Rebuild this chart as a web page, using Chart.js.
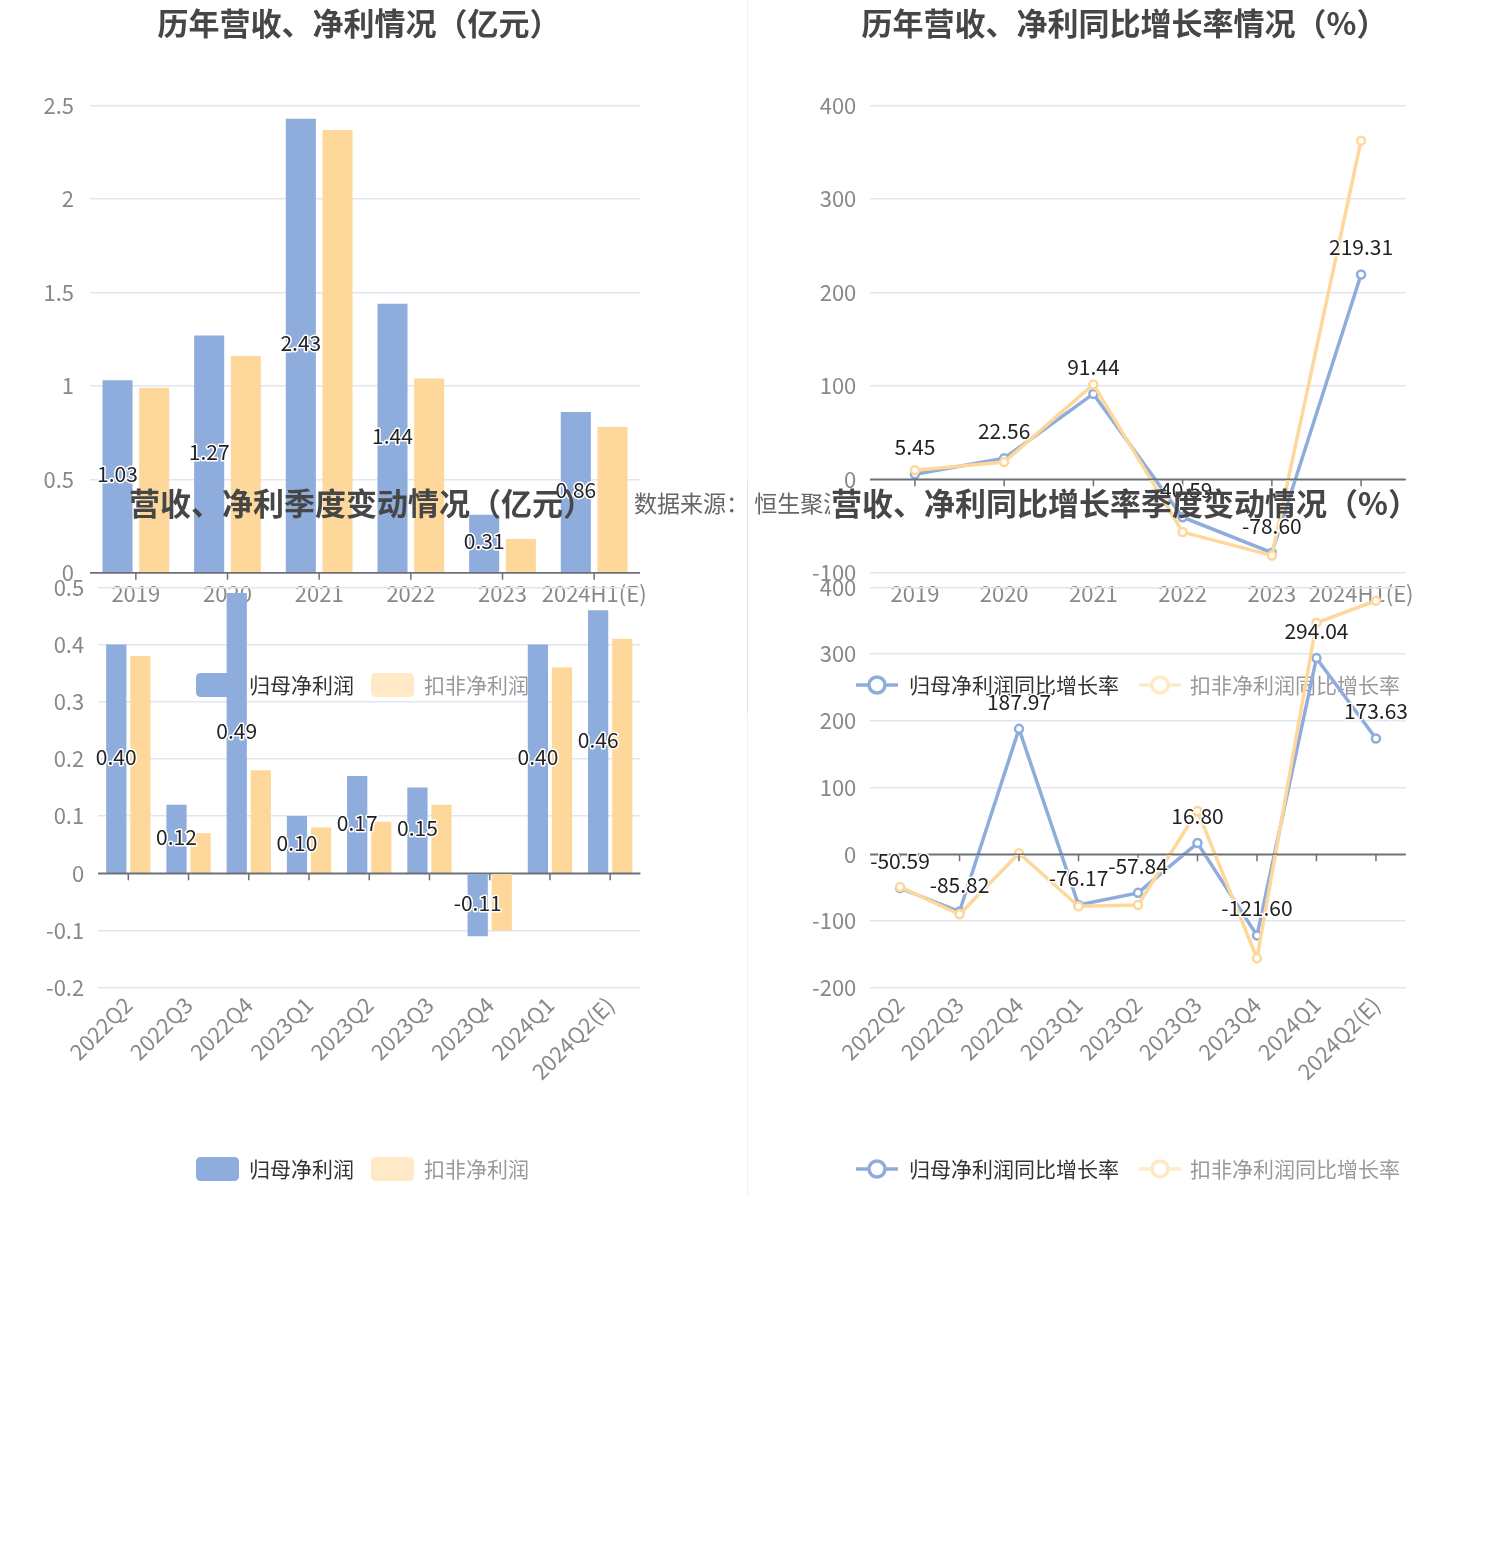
<!DOCTYPE html>
<html>
<head>
<meta charset="utf-8">
<script src="https://cdn.jsdelivr.net/npm/chart.js@4.4.1/dist/chart.umd.min.js"></script>
<style>
html,body{margin:0;padding:0;background:#fff;}
body{width:1489px;height:1559px;position:relative;overflow:hidden;font-family:"Noto Sans CJK SC",sans-serif;}
.box{position:absolute;}
.box canvas{display:block;}
.vline{position:absolute;width:1px;background:rgba(0,0,0,0.06);}
#src{position:absolute;left:634px;top:486px;width:196px;overflow:hidden;font-size:23px;line-height:32px;color:#666;white-space:nowrap;}
</style>
</head>
<body>
<div class="vline" style="left:747px;top:0;height:713px"></div>
<div class="vline" style="left:747px;top:481px;height:716px"></div>
<div class="box" style="left:0;top:0;width:748px;height:713px"><canvas id="c1" width="748" height="713"></canvas></div>
<div class="box" style="left:748px;top:0;width:741px;height:713px"><canvas id="c2" width="741" height="713"></canvas></div>
<div id="src">数据来源： 恒生聚源</div>
<div class="box" style="left:0;top:481px;width:748px;height:716px"><canvas id="c3" width="748" height="716"></canvas></div>
<div class="box" style="left:748px;top:481px;width:741px;height:716px"><canvas id="c4" width="741" height="716"></canvas></div>
<script>
// ---------- data ----------
const yearLabels = ['2019','2020','2021','2022','2023','2024H1(E)'];
const yearNetProfit = [1.03,1.27,2.43,1.44,0.31,0.86];
const yearDeductedProfit = [0.99,1.16,2.37,1.04,0.18,0.78];
const yearNetGrowth = [5.45,22.56,91.44,-40.59,-78.60,219.31];
const yearDeductedGrowth = [9.6,18.5,101.6,-56.5,-81.5,362.6];

const quarterLabels = ['2022Q2','2022Q3','2022Q4','2023Q1','2023Q2','2023Q3','2023Q4','2024Q1','2024Q2(E)'];
const quarterNetProfit = [0.40,0.12,0.49,0.10,0.17,0.15,-0.11,0.40,0.46];
const quarterDeductedProfit = [0.38,0.07,0.18,0.08,0.09,0.12,-0.10,0.36,0.41];
const quarterNetGrowth = [-50.59,-85.82,187.97,-76.17,-57.84,16.80,-121.60,294.04,173.63];
const quarterDeductedGrowth = [-49,-90,1.5,-78,-76,65,-156,347,380];

const barSeriesNames = ['归母净利润','扣非净利润'];
const lineSeriesNames = ['归母净利润同比增长率','扣非净利润同比增长率'];
const titles = ['历年营收、净利情况（亿元）','历年营收、净利同比增长率情况（%）','营收、净利季度变动情况（亿元）','营收、净利同比增长率季度变动情况（%）'];

// ---------- style ----------
Chart.defaults.font.family = '"Noto Sans CJK SC","Noto Sans",sans-serif';
Chart.defaults.animation = false;
const FONT = '"Noto Sans CJK SC","Noto Sans",sans-serif';
const BLUE = '#8eacdc', ORANGE = '#fed89a', ORANGE_PALE = '#ffe9c6';
const GRID = '#e0e6f1', AXIS = '#6e7079', TICK = '#888888';

function isZero(c){ return c.tick && Math.abs(c.tick.value) < 1e-9; }
function yScale(min,max,step,width,pad){
  return {
    type:'linear', min:min, max:max,
    ticks:{stepSize:step, color:TICK, font:{size:22}, padding:pad,
      callback:v=>String(Number(Number(v).toFixed(2)))},
    grid:{drawTicks:false, color:c=>isZero(c)?AXIS:GRID, lineWidth:1.5},
    border:{display:false},
    afterFit(s){ s.width = width; }
  };
}
function xScale(height,pad,rot){
  return {
    type:'category', offset:true,
    grid:{display:false, drawTicks:false}, border:{display:false},
    ticks:{color:TICK, font:{size:22}, padding:pad, autoSkip:false, maxRotation:rot, minRotation:rot},
    afterFit(s){ s.height = height; }
  };
}

const zeroTicks = {
  id:'zeroTicks',
  afterDatasetsDraw(chart){
    const xs = chart.scales.x, ys = chart.scales.y, ctx = chart.ctx;
    const y0 = ys.getPixelForValue(0);
    ctx.save();
    ctx.strokeStyle = AXIS; ctx.lineWidth = 1.5;
    ctx.beginPath(); ctx.moveTo(chart.chartArea.left, y0); ctx.lineTo(chart.chartArea.right, y0); ctx.stroke();
    for (let i = 0; i < chart.data.labels.length; i++){
      const px = xs.getPixelForValue(i);
      ctx.beginPath(); ctx.moveTo(px, y0); ctx.lineTo(px, y0 + 7); ctx.stroke();
    }
    ctx.restore();
  }
};

const valueLabels = {
  id:'valueLabels',
  afterDatasetsDraw(chart, args, opts){
    const meta = chart.getDatasetMeta(opts.dataset || 0);
    const ds = chart.data.datasets[opts.dataset || 0];
    const ctx = chart.ctx;
    ctx.save();
    ctx.font = '21px ' + FONT;
    ctx.textAlign = 'center'; ctx.textBaseline = 'middle';
    ctx.lineJoin = 'round';
    meta.data.forEach((el, i) => {
      const txt = Number(ds.data[i]).toFixed(2);
      const x = el.x;
      const y = meta.type === 'bar' ? (el.y + el.base) / 2 - 2 : el.y - opts.offset;
      ctx.strokeStyle = '#fff'; ctx.lineWidth = 3; ctx.strokeText(txt, x, y);
      ctx.fillStyle = '#222'; ctx.fillText(txt, x, y);
    });
    ctx.restore();
  }
};

function roundRect(ctx, x, y, w, h, r){
  ctx.beginPath();
  ctx.moveTo(x + r, y); ctx.lineTo(x + w - r, y); ctx.quadraticCurveTo(x + w, y, x + w, y + r);
  ctx.lineTo(x + w, y + h - r); ctx.quadraticCurveTo(x + w, y + h, x + w - r, y + h);
  ctx.lineTo(x + r, y + h); ctx.quadraticCurveTo(x, y + h, x, y + h - r);
  ctx.lineTo(x, y + r); ctx.quadraticCurveTo(x, y, x + r, y); ctx.closePath();
}

const decor = {
  id:'decor',
  afterDraw(chart, args, o){
    const ctx = chart.ctx;
    ctx.save();
    ctx.font = 'bold 31px ' + FONT;
    ctx.fillStyle = '#464646'; ctx.textAlign = 'center'; ctx.textBaseline = 'middle';
    ctx.fillText(o.title, o.tx, o.ty);
    ctx.font = '21px ' + FONT;
    ctx.textAlign = 'left';
    o.items.forEach((it, i) => {
      const label = chart.data.datasets[i].label;
      if (o.kind === 'bar'){
        ctx.fillStyle = it.color;
        roundRect(ctx, it.ix, o.ly - 12, 43, 24, 5); ctx.fill();
      } else {
        ctx.strokeStyle = it.color; ctx.lineWidth = 3.5;
        ctx.beginPath(); ctx.moveTo(it.ix, o.ly); ctx.lineTo(it.ix + 42, o.ly); ctx.stroke();
        ctx.beginPath(); ctx.arc(it.ix + 21, o.ly, 8, 0, Math.PI * 2);
        ctx.fillStyle = '#fff'; ctx.fill(); ctx.stroke();
      }
      ctx.fillStyle = it.text;
      ctx.fillText(label, it.tx, o.ly);
    });
    ctx.restore();
  }
};

function barChart(id, labels, a, b, yMin, yMax, step, geo, xRot, xPad, dec){
  return new Chart(document.getElementById(id), {
    type:'bar',
    data:{labels:labels, datasets:[
      {label:barSeriesNames[0], data:a, backgroundColor:BLUE, barPercentage:geo.bp, categoryPercentage:0.8},
      {label:barSeriesNames[1], data:b, backgroundColor:ORANGE, barPercentage:geo.bp, categoryPercentage:0.8}
    ]},
    options:{
      responsive:false, devicePixelRatio:1,
      layout:{padding:{left:0, top:geo.top, right:geo.right, bottom:geo.bottom}},
      plugins:{legend:{display:false}, tooltip:{enabled:false}, title:{display:false},
        valueLabels:{dataset:0}, decor:dec},
      scales:{x:xScale(geo.xh, xPad, xRot), y:yScale(yMin, yMax, step, geo.left, geo.ypad)}
    },
    plugins:[zeroTicks, valueLabels, decor]
  });
}
function lineChart(id, labels, a, b, yMin, yMax, step, geo, xRot, xPad, dec){
  const common = {borderWidth:3.5, pointRadius:4, pointBorderWidth:2.5, pointBackgroundColor:'#fff', tension:0, fill:false};
  return new Chart(document.getElementById(id), {
    type:'line',
    data:{labels:labels, datasets:[
      Object.assign({label:lineSeriesNames[0], data:a, borderColor:BLUE, pointBorderColor:BLUE, order:1}, common),
      Object.assign({label:lineSeriesNames[1], data:b, borderColor:ORANGE, pointBorderColor:ORANGE, order:0}, common)
    ]},
    options:{
      responsive:false, devicePixelRatio:1,
      layout:{padding:{left:0, top:geo.top, right:geo.right, bottom:geo.bottom}},
      plugins:{legend:{display:false}, tooltip:{enabled:false}, title:{display:false},
        valueLabels:{dataset:0, offset:27}, decor:dec},
      scales:{x:xScale(geo.xh, xPad, xRot), y:yScale(yMin, yMax, step, geo.left, geo.ypad)}
    },
    plugins:[zeroTicks, valueLabels, decor]
  });
}

barChart('c1', yearLabels, yearNetProfit, yearDeductedProfit, 0, 2.5, 0.5,
  {top:105.7, right:108, bottom:100.3, xh:40, left:90, ypad:16, bp:0.82}, 0, 8,
  {title:titles[0], tx:359, ty:23, kind:'bar', ly:685,
   items:[{color:BLUE, ix:196, tx:249, text:'#333'}, {color:ORANGE_PALE, ix:371, tx:424, text:'#999'}]});

lineChart('c2', yearLabels, yearNetGrowth, yearDeductedGrowth, -100, 400, 100,
  {top:105.7, right:83.3, bottom:100.3, xh:40, left:122.3, ypad:14}, 0, 8,
  {title:titles[1], tx:376.5, ty:23, kind:'line', ly:685,
   items:[{color:BLUE, ix:108, tx:161, text:'#333'}, {color:ORANGE_PALE, ix:391, tx:442, text:'#999'}]});

barChart('c3', quarterLabels, quarterNetProfit, quarterDeductedProfit, -0.2, 0.5, 0.1,
  {top:106.3, right:107.7, bottom:109.3, xh:100, left:98.2, ypad:14, bp:0.84}, 45, 4,
  {title:titles[2], tx:361.5, ty:22, kind:'bar', ly:688,
   items:[{color:BLUE, ix:196, tx:249, text:'#333'}, {color:ORANGE_PALE, ix:371, tx:424, text:'#999'}]});

lineChart('c4', quarterLabels, quarterNetGrowth, quarterDeductedGrowth, -200, 400, 100,
  {top:106.4, right:83.3, bottom:109.3, xh:100, left:122.3, ypad:14}, 45, 4,
  {title:titles[3], tx:377, ty:22, kind:'line', ly:688,
   items:[{color:BLUE, ix:108, tx:161, text:'#333'}, {color:ORANGE_PALE, ix:391, tx:442, text:'#999'}]});
</script>
</body>
</html>
